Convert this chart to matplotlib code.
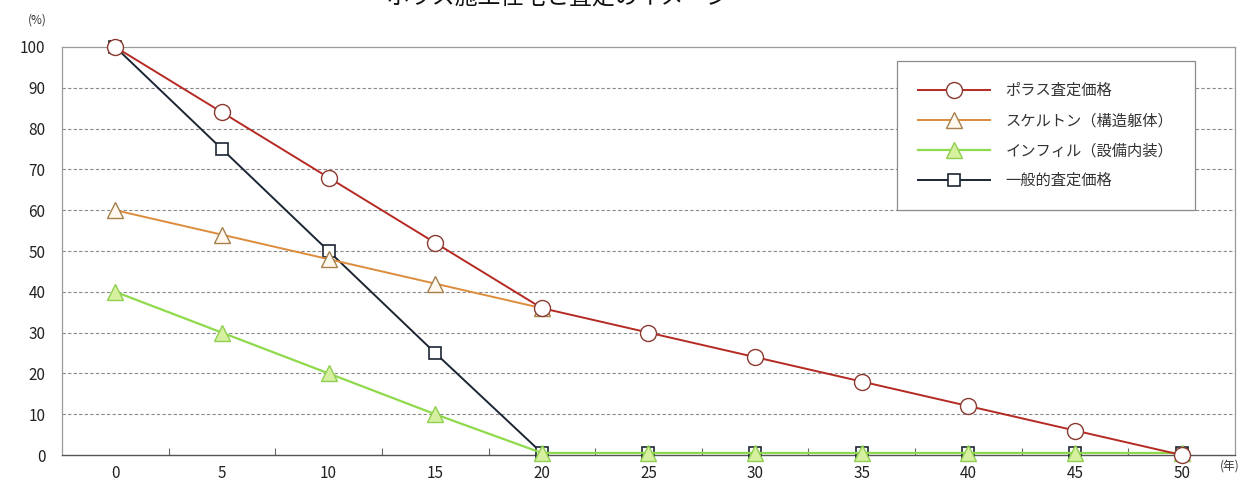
import numpy as np
import matplotlib.pyplot as plt

plt.rcParams['font.family'] = ['Noto Sans CJK JP', 'DejaVu Sans']

years = [0, 5, 10, 15, 20, 25, 30, 35, 40, 45, 50]
porus = [100, 84, 68, 52, 36, 30, 24, 18, 12, 6, 0]
skeleton_years = [0, 5, 10, 15, 20]
skeleton = [60, 54, 48, 42, 36]
infill = [40, 30, 20, 10, 0.5, 0.5, 0.5, 0.5, 0.5, 0.5, 0.5]
general = [100, 75, 50, 25, 0.5, 0.5, 0.5, 0.5, 0.5, 0.5, 0.5]

labels = ['ポラス査定価格', 'スケルトン（構造躯体）', 'インフィル（設備内装）', '一般的査定価格']

fig = plt.figure(figsize=(12.49, 4.84), dpi=100)
ax = fig.add_axes([0.0496, 0.0599, 0.9392, 0.843])

# black first, green over it, then orange, red on top
l_gen, = ax.plot(years, general, color='#1c2633', lw=1.4, marker='s', ms=9,
                 mfc='white', mec='#1c2633', mew=1.2, clip_on=False, zorder=3)
l_inf, = ax.plot(years, infill, color='#8fd94c', lw=1.6, marker='^', ms=12,
                 mfc='#d6f0a0', mec='#8fcf50', mew=1.0, clip_on=False, zorder=4)
l_skel, = ax.plot(skeleton_years, skeleton, color='#dd8c3c', lw=1.4, marker='^', ms=12,
                  mfc='#fff8ee', mec='#a6804a', mew=1.0, clip_on=False, zorder=5)
l_por, = ax.plot(years, porus, color='#b52a22', lw=1.4, marker='o', ms=11.5,
                 mfc='white', mec='#8a3a30', mew=1.0, clip_on=False, zorder=6)

ax.set_xlim(-2.5, 52.5)
ax.set_ylim(0, 100)

ax.set_yticks(np.arange(0, 101, 10))
ax.tick_params(axis='y', length=0, labelsize=11, pad=12, labelcolor='#222222')

# category style axis: labels at 0,5,...; small tick marks between them
ax.set_xticks(years)
ax.tick_params(axis='x', length=0, labelsize=11, pad=7, labelcolor='#222222')
ax.set_xticks(np.arange(2.5, 50, 5), minor=True)
ax.tick_params(axis='x', which='minor', direction='in', length=5, color='#666666', width=0.8)

for y in range(10, 100, 10):
    ax.axhline(y, color='#8a8a8a', lw=0.8, ls=(0, (3, 2)), zorder=1)

for side in ['left', 'top', 'right']:
    ax.spines[side].set_color('#9a9a9a')
    ax.spines[side].set_linewidth(0.9)
ax.spines['bottom'].set_color('#555555')
ax.spines['bottom'].set_linewidth(1.0)

leg = ax.legend([l_por, l_skel, l_inf, l_gen], labels, loc='upper right',
                bbox_to_anchor=(0.972, 0.985), fontsize=11, handlelength=4.7,
                handletextpad=1.0, labelspacing=0.85, borderpad=1.4,
                fancybox=False, framealpha=1, edgecolor='#8a8a8a')
leg.get_frame().set_linewidth(0.9)
for t in leg.get_texts():
    t.set_color('#333333')

fig.text(37 / 1249, 1 - 20 / 484, '(%)', fontsize=8.5, ha='center', va='center', color='#333333')
fig.text(1230 / 1249, 1 - 466 / 484, '(年)', fontsize=8.5, ha='center', va='center', color='#333333')
fig.text(558 / 1249, 1 + 3 / 484, 'ポラス施工住宅と査定のイメージ', fontsize=16.5,
         ha='center', va='center', color='#111111')

fig.savefig('out.png', dpi=100)
